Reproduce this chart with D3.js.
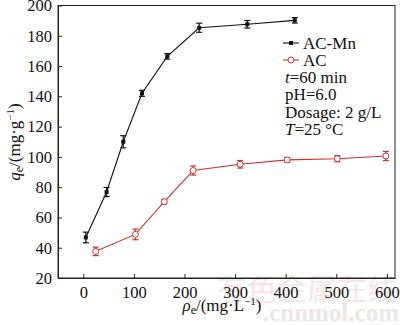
<!DOCTYPE html>
<html><head><meta charset="utf-8">
<script src="https://cdn.jsdelivr.net/npm/d3@7"></script>
<style>body{margin:0;background:#fff}svg{display:block}text{font-family:'Liberation Serif','Times New Roman',serif}</style>
</head><body>
<svg id="c" width="400" height="325"></svg>
<script>
const acMnX = [5, 46, 79, 116, 166, 229, 324, 418];
const acMnY = [46.8, 76.8, 110, 142, 166.4, 185.3, 187.6, 190.2];
const acMnErr = [3.5, 3, 4, 2, 1.8, 3, 2.5, 1.8];
const acX = [24.5, 103, 160, 217, 310, 403, 502, 598];
const acY = [37.6, 48.8, 70.4, 91, 95.1, 98, 98.8, 100.6];
const acErr = [2.8, 3.5, 1.5, 3, 2.5, 1.5, 2, 3];
const xTicks = [0, 100, 200, 300, 400, 500, 600];
const yTicks = [20, 40, 60, 80, 100, 120, 140, 160, 180, 200];
const legendNotes = ["t=60 min", "pH=6.0", "Dosage: 2 g/L", "T=25 °C"];

const svg = d3.select("#c");
const L = 58, R = 395, T = 5.5, B = 278;
const x = d3.scaleLinear().domain([-50, 616]).range([L, R]);
const y = d3.scaleLinear().domain([20, 200]).range([B, T]);
const red = "#d03030";
const serif = "'Liberation Serif','Times New Roman',serif";

// watermark
svg.append("text").attr("x", 397).attr("y", 300).attr("text-anchor", "end")
  .style("font-family", "'Noto Sans CJK SC'").attr("font-size", 30)
  .attr("fill", "#f8e6e6").text("有色金属在线");
svg.append("text").attr("x", 399).attr("y", 321).attr("text-anchor", "end")
  .style("font-family", serif).attr("font-weight", "bold").attr("font-size", 25)
  .attr("fill", "#f0e6e6").text(".cnnmol.com");

// frame
svg.append("rect").attr("x", L).attr("y", T).attr("width", R - L).attr("height", B - T)
  .attr("fill", "none").attr("stroke", "#222").attr("stroke-width", 1);

const xa = svg.append("g").attr("transform", `translate(0,${B})`)
  .call(d3.axisBottom(x).tickValues(xTicks).tickSizeInner(-4).tickSizeOuter(0).tickPadding(8));
const ya = svg.append("g").attr("transform", `translate(${L},0)`)
  .call(d3.axisLeft(y).tickValues(yTicks).tickSizeInner(-4).tickSizeOuter(0).tickPadding(6));
[xa, ya].forEach(a => {
  a.attr("font-family", null);
  a.select(".domain").attr("stroke", "#222");
  a.selectAll(".tick line").attr("stroke", "#222");
  a.selectAll("text").style("font-family", serif).style("font-size", "16.5px").attr("fill", "#111");
});

// axis titles
const xt = svg.append("text").attr("x", 222).attr("y", 311).attr("text-anchor", "middle")
  .style("font-family", serif).attr("font-size", 17).attr("fill", "#111");
xt.append("tspan").attr("font-style", "italic").text("ρ");
xt.append("tspan").attr("font-size", 12).attr("dy", 3).text("e");
xt.append("tspan").attr("dy", -3).text("/(mg·L");
xt.append("tspan").attr("font-size", 11).attr("dy", -6).text("−1");
xt.append("tspan").attr("dy", 6).text(")");

const yt = svg.append("text").attr("transform", "translate(20,142) rotate(-90)")
  .attr("text-anchor", "middle").style("font-family", serif).attr("font-size", 17).attr("fill", "#111");
yt.append("tspan").attr("font-style", "italic").text("q");
yt.append("tspan").attr("font-size", 12).attr("dy", 3).text("e");
yt.append("tspan").attr("dy", -3).text("/(mg·g");
yt.append("tspan").attr("font-size", 11).attr("dy", -6).text("−1");
yt.append("tspan").attr("dy", 6).text(")");

function series(xs, ys, es, color, kind) {
  const pts = xs.map((v, i) => ({x: v, y: ys[i], e: es[i]}));
  const g = svg.append("g");
  g.append("path").datum(pts).attr("fill", "none").attr("stroke", color).attr("stroke-width", 1.1)
    .attr("d", d3.line().x(d => x(d.x)).y(d => y(d.y)));
  const eb = g.selectAll(".eb").data(pts).enter().append("g");
  eb.append("line").attr("x1", d => x(d.x)).attr("x2", d => x(d.x))
    .attr("y1", d => y(d.y - d.e)).attr("y2", d => y(d.y + d.e)).attr("stroke", color).attr("stroke-width", 1.2);
  [-1, 1].forEach(s => eb.append("line").attr("x1", d => x(d.x) - 3).attr("x2", d => x(d.x) + 3)
    .attr("y1", d => y(d.y + s * d.e)).attr("y2", d => y(d.y + s * d.e)).attr("stroke", color).attr("stroke-width", 1.2));
  if (kind === "sq") {
    g.selectAll(".m").data(pts).enter().append("rect").attr("x", d => x(d.x) - 2).attr("y", d => y(d.y) - 2)
      .attr("width", 4).attr("height", 4).attr("fill", color);
  } else {
    g.selectAll(".m").data(pts).enter().append("circle").attr("cx", d => x(d.x)).attr("cy", d => y(d.y))
      .attr("r", 3).attr("fill", "#fff").attr("stroke", color).attr("stroke-width", 1);
  }
}
series(acMnX, acMnY, acMnErr, "#111", "sq");
series(acX, acY, acErr, red, "ci");

// legend
const lg = svg.append("g");
lg.append("line").attr("x1", 283).attr("x2", 299).attr("y1", 43).attr("y2", 43).attr("stroke", "#111").attr("stroke-width", 1.1);
lg.append("rect").attr("x", 289).attr("y", 41).attr("width", 4).attr("height", 4).attr("fill", "#111");
lg.append("text").attr("x", 303).attr("y", 49).style("font-family", serif).attr("font-size", 17).attr("fill", "#111").text("AC-Mn");
lg.append("line").attr("x1", 283).attr("x2", 299).attr("y1", 60).attr("y2", 60).attr("stroke", red).attr("stroke-width", 1.1);
lg.append("circle").attr("cx", 291).attr("cy", 60).attr("r", 3).attr("fill", "#fff").attr("stroke", red);
lg.append("text").attr("x", 303).attr("y", 66).style("font-family", serif).attr("font-size", 17).attr("fill", "#111").text("AC");

legendNotes.forEach((s, i) => {
  const t = lg.append("text").attr("x", 285).attr("y", 83 + i * 17.3).style("font-family", serif)
    .attr("font-size", 17).attr("fill", "#111");
  const m = s.match(/^([tT])(=.*)$/);
  if (m) { t.append("tspan").attr("font-style", "italic").text(m[1]); t.append("tspan").text(m[2]); }
  else t.text(s);
});
</script>
</body></html>
